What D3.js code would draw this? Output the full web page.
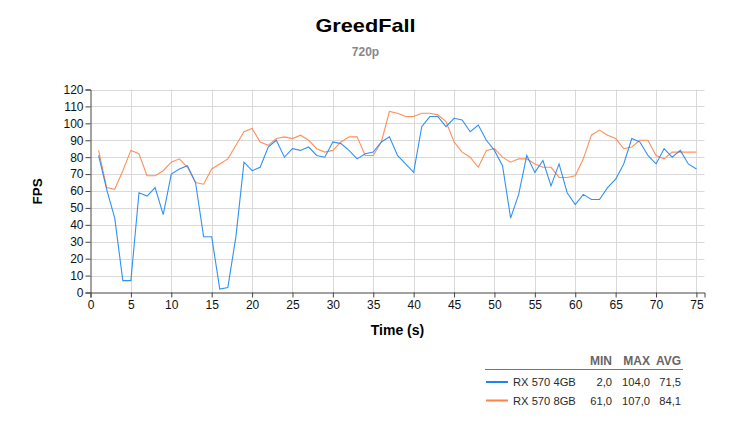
<!DOCTYPE html>
<html><head><meta charset="utf-8">
<script src="https://cdn.jsdelivr.net/npm/d3@7"></script>
<style>body{margin:0;background:#fff;}svg{display:block;font-family:Arial,"Liberation Sans",sans-serif;}</style>
</head><body>
<svg id="c" width="730" height="430"></svg>
<script>
const title = "GreedFall";
const subtitle = "720p";
const seriesNames = ["RX 570 4GB", "RX 570 8GB"];
const seriesColors = ["#1a86f5", "#ff8448"];
const times = d3.range(1, 76);
const fps4 = [81,61,44,7,7,59,57,62,46,70,73,75,65,33,33,2,3,33,77,72,74,86,90,80,85,84,86,81,80,89,88,84,79,82,83,89,92,81,76,71,98,104,104,98,103,102,95,99,90,84,75,44,58,81,71,78,63,76,59,52,58,55,55,62,67,76,91,89,81,76,85,80,84,76,73];
const fps8 = [84,62,61,72,84,82,69,69,72,77,79,74,65,64,73,76,79,87,95,97,89,87,91,92,91,93,90,85,83,84,89,92,92,81,81,89,107,106,104,104,106,106,105,101,89,83,80,74,84,85,80,77,79,79,76,74,74,68,68,69,79,93,96,93,91,85,86,90,90,81,79,83,83,83,83];
const statHeaders = ["MIN", "MAX", "AVG"];
const stats = [["2,0", "104,0", "71,5"], ["61,0", "107,0", "84,1"]];
const xTicks = d3.range(0, 76, 5);
const yTicks = d3.range(0, 121, 10);

const svg = d3.select("#c");
const x = d3.scaleLinear().domain([0, 76]).range([90.5, 704.5]);
const y = d3.scaleLinear().domain([0, 120]).range([292.5, 89.5]);

// grid
svg.append("g").selectAll("line").data(yTicks.filter(d => d > 0)).join("line")
  .attr("x1", x(0)).attr("x2", x(76)).attr("y1", d => Math.round(y(d)) + 0.5).attr("y2", d => Math.round(y(d)) + 0.5)
  .attr("stroke", "#d9d9d9");
svg.append("g").selectAll("line").data(xTicks.filter(d => d > 0)).join("line")
  .attr("x1", d => Math.round(x(d)) + 0.5).attr("x2", d => Math.round(x(d)) + 0.5).attr("y1", y(0)).attr("y2", y(120))
  .attr("stroke", "#d9d9d9");

// axes
const xAxis = svg.append("g").attr("transform", `translate(0,${y(0)})`)
  .call(d3.axisBottom(x).tickValues(xTicks).tickSize(5).tickPadding(3).tickFormat(d3.format("d")));
const yAxis = svg.append("g").attr("transform", `translate(${x(0)},0)`)
  .call(d3.axisLeft(y).tickValues(yTicks).tickSize(5).tickPadding(2).tickFormat(d3.format("d")));
[xAxis, yAxis].forEach(a => {
  a.select(".domain").attr("stroke", "#444");
  a.selectAll(".tick line").attr("stroke", "#444");
  a.selectAll("text").attr("fill", "#111").style("font-size", "12px").style("font-family", "Arial, 'Liberation Sans', sans-serif");
});

// lines
const line = d3.line().x((d, i) => x(times[i])).y(d => y(d));
svg.append("path").datum(fps8).attr("d", line).attr("fill", "none").attr("stroke", seriesColors[1]).attr("stroke-width", 1.1).attr("opacity", 0.9);
svg.append("path").datum(fps4).attr("d", line).attr("fill", "none").attr("stroke", seriesColors[0]).attr("stroke-width", 1.1).attr("opacity", 0.9);

// titles
svg.append("text").attr("x", 365.5).attr("y", 32).attr("text-anchor", "middle")
  .attr("textLength", 100).attr("lengthAdjust", "spacingAndGlyphs")
  .style("font-size", "19px").style("font-weight", "bold").attr("fill", "#000").text(title);
svg.append("text").attr("x", 365.5).attr("y", 55.5).attr("text-anchor", "middle")
  .style("font-size", "12px").style("font-weight", "bold").attr("fill", "#888").text(subtitle);
svg.append("text").attr("transform", "translate(41.5,191.3) rotate(-90)").attr("text-anchor", "middle")
  .style("font-size", "13.5px").style("font-weight", "bold").attr("fill", "#000").text("FPS");
svg.append("text").attr("x", 397.5).attr("y", 334.5).attr("text-anchor", "middle")
  .style("font-size", "14px").style("font-weight", "bold").attr("fill", "#000").text("Time (s)");

// legend
const colRight = [612, 650, 681];
const lg = svg.append("g");
lg.selectAll("text.h").data(statHeaders).join("text").attr("class", "h")
  .attr("x", (d, i) => colRight[i]).attr("y", 364.5).attr("text-anchor", "end")
  .style("font-size", "12px").style("font-weight", "bold").attr("fill", "#666").text(d => d);
lg.append("line").attr("x1", 485).attr("x2", 683).attr("y1", 369.5).attr("y2", 369.5).attr("stroke", "#777");
seriesNames.forEach((n, r) => {
  const yy = 382 + r * 18.5;
  lg.append("line").attr("x1", 486).attr("x2", 508).attr("y1", yy).attr("y2", yy)
    .attr("stroke", seriesColors[r]).attr("stroke-width", 2);
  lg.append("text").attr("x", 513).attr("y", yy + 4).style("font-size", "11.2px").attr("fill", "#2a2a2a").text(n);
  stats[r].forEach((v, c) => {
    lg.append("text").attr("x", colRight[c]).attr("y", yy + 4).attr("text-anchor", "end")
      .style("font-size", "11.2px").attr("fill", "#2a2a2a").text(v);
  });
});
</script>
</body></html>
